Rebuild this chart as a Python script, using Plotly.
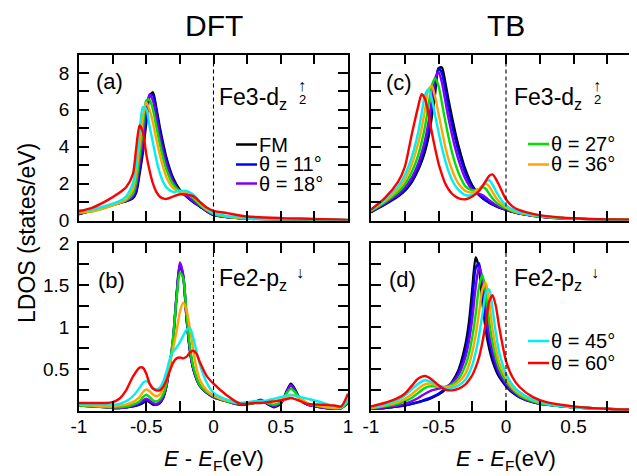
import plotly.graph_objects as go

W, H = 637, 476

# ---------------- data ----------------
series_names = ["FM", "θ = 11°", "θ = 18°", "θ = 27°", "θ = 36°", "θ = 45°", "θ = 60°"]
series_colors = ["#000000", "#0000ff", "#8000f0", "#00e000", "#ffa500", "#00f0f0", "#ff0000"]

x_tickvals = [-1, -0.75, -0.5, -0.25, 0, 0.25, 0.5, 0.75, 1]
x_ticktext = ["-1", " ", "-0.5", " ", "0", " ", "0.5", " ", "1"]
y_top_tickvals = [0, 1, 2, 3, 4, 5, 6, 7, 8, 9]
y_top_ticktext = ["0", " ", "2", " ", "4", " ", "6", " ", "8", " "]
y_bot_tickvals = [0.25, 0.5, 0.75, 1, 1.25, 1.5, 1.75, 2]
y_bot_ticktext = [" ", "0.5", " ", "1", " ", "1.5", " ", "2"]

# (a) DFT Fe3-dz2 up
E_a = [-1.0, -0.9, -0.8, -0.7, -0.65, -0.6, -0.575, -0.55, -0.525, -0.5, -0.475, -0.45, -0.425, -0.4,
       -0.375, -0.35, -0.3, -0.25, -0.2, -0.15, -0.1, -0.05, 0.0, 0.1, 0.25, 0.5, 0.75, 1.0]
fm_a = [0.35, 0.55, 0.75, 0.95, 1.05, 1.2, 1.5, 2.5, 3.7, 5.3, 6.75, 6.95, 6.1, 5.1, 4.2, 3.4, 2.3, 1.65, 1.3, 1.0, 0.75, 0.5, 0.3, 0.18, 0.1, 0.06, 0.04, 0.02]
t11_a = [0.35, 0.55, 0.75, 0.95, 1.05, 1.25, 1.6, 2.7, 3.95, 5.55, 6.8, 6.8, 5.9, 4.9, 4.0, 3.25, 2.2, 1.6, 1.3, 1.0, 0.75, 0.5, 0.3, 0.18, 0.1, 0.06, 0.04, 0.02]
t18_a = [0.38, 0.55, 0.75, 0.95, 1.07, 1.3, 1.8, 3.0, 4.4, 6.0, 6.85, 6.5, 5.6, 4.6, 3.75, 3.05, 2.1, 1.6, 1.35, 1.05, 0.78, 0.52, 0.32, 0.18, 0.1, 0.06, 0.04, 0.02]
t27_a = [0.4, 0.5, 0.7, 0.95, 1.1, 1.45, 2.1, 3.5, 5.0, 6.5, 6.55, 6.0, 5.1, 4.2, 3.4, 2.75, 1.95, 1.6, 1.5, 1.2, 0.85, 0.55, 0.35, 0.2, 0.1, 0.06, 0.04, 0.02]
t36_a = [0.45, 0.5, 0.7, 0.95, 1.15, 1.7, 2.6, 4.1, 5.6, 6.4, 6.0, 5.3, 4.4, 3.6, 2.9, 2.35, 1.75, 1.55, 1.55, 1.3, 0.9, 0.6, 0.38, 0.22, 0.12, 0.07, 0.05, 0.02]
t45_a = [0.55, 0.6, 0.8, 1.05, 1.3, 2.0, 3.1, 4.8, 6.15, 6.05, 5.1, 4.2, 3.3, 2.6, 2.1, 1.8, 1.55, 1.6, 1.6, 1.4, 1.0, 0.65, 0.4, 0.25, 0.13, 0.08, 0.05, 0.03]
t60_a = [0.5, 0.7, 1.05, 1.5, 1.8, 2.5, 3.9, 5.15, 4.8, 3.6, 2.7, 2.0, 1.55, 1.3, 1.2, 1.17, 1.3, 1.42, 1.4, 1.32, 1.0, 0.7, 0.52, 0.4, 0.22, 0.13, 0.09, 0.03]

# (b) DFT Fe2-pz down
E_b = [-1.0, -0.9, -0.8, -0.75, -0.7, -0.65, -0.6, -0.55, -0.525, -0.5, -0.475, -0.45, -0.425, -0.4, -0.375,
       -0.35, -0.325, -0.3, -0.275, -0.25, -0.225, -0.2, -0.175, -0.15, -0.125, -0.1, -0.05, 0.0, 0.1, 0.2,
       0.3, 0.35, 0.4, 0.45, 0.5, 0.55, 0.575, 0.6, 0.65, 0.7, 0.8, 0.9, 0.95, 1.0]
fm_b = [0.07, 0.06, 0.05, 0.04, 0.04, 0.05, 0.06, 0.08, 0.1, 0.13, 0.11, 0.08, 0.08, 0.1, 0.16, 0.3, 0.55, 0.85, 1.35, 1.74, 1.6, 1.1, 0.72, 0.5, 0.38, 0.3, 0.22, 0.17, 0.12, 0.08, 0.1, 0.13, 0.09, 0.05, 0.09, 0.26, 0.33, 0.28, 0.13, 0.08, 0.05, 0.03, 0.04, 0.1]
t11_b = [0.07, 0.06, 0.05, 0.04, 0.04, 0.05, 0.06, 0.09, 0.11, 0.14, 0.12, 0.09, 0.08, 0.1, 0.16, 0.3, 0.55, 0.86, 1.36, 1.75, 1.6, 1.1, 0.72, 0.5, 0.38, 0.3, 0.22, 0.17, 0.12, 0.08, 0.11, 0.13, 0.09, 0.06, 0.1, 0.26, 0.32, 0.27, 0.13, 0.08, 0.05, 0.03, 0.04, 0.1]
t18_b = [0.07, 0.06, 0.05, 0.04, 0.04, 0.05, 0.07, 0.1, 0.13, 0.15, 0.13, 0.1, 0.09, 0.11, 0.17, 0.31, 0.56, 0.88, 1.38, 1.77, 1.62, 1.12, 0.73, 0.51, 0.38, 0.3, 0.22, 0.17, 0.12, 0.08, 0.11, 0.14, 0.1, 0.06, 0.1, 0.25, 0.31, 0.26, 0.13, 0.08, 0.05, 0.03, 0.04, 0.1]
t27_b = [0.07, 0.06, 0.05, 0.05, 0.05, 0.06, 0.08, 0.12, 0.17, 0.2, 0.17, 0.13, 0.12, 0.14, 0.2, 0.33, 0.57, 0.88, 1.33, 1.65, 1.58, 1.15, 0.76, 0.53, 0.4, 0.31, 0.23, 0.18, 0.12, 0.09, 0.1, 0.12, 0.1, 0.08, 0.11, 0.23, 0.27, 0.24, 0.14, 0.09, 0.06, 0.04, 0.04, 0.12]
t36_b = [0.08, 0.07, 0.06, 0.06, 0.07, 0.08, 0.11, 0.17, 0.23, 0.26, 0.24, 0.2, 0.18, 0.2, 0.27, 0.38, 0.55, 0.75, 0.95, 1.18, 1.29, 1.2, 0.98, 0.72, 0.5, 0.37, 0.25, 0.19, 0.13, 0.1, 0.11, 0.12, 0.12, 0.12, 0.14, 0.18, 0.2, 0.19, 0.15, 0.1, 0.06, 0.04, 0.05, 0.13]
t45_b = [0.09, 0.08, 0.08, 0.08, 0.09, 0.12, 0.18, 0.28, 0.34, 0.36, 0.33, 0.28, 0.26, 0.28, 0.35, 0.47, 0.62, 0.71, 0.76, 0.82, 0.9, 0.97, 0.99, 0.87, 0.7, 0.55, 0.34, 0.22, 0.14, 0.1, 0.12, 0.12, 0.13, 0.15, 0.17, 0.19, 0.19, 0.19, 0.17, 0.15, 0.11, 0.06, 0.05, 0.15]
t60_b = [0.1, 0.1, 0.1, 0.11, 0.15, 0.25, 0.41, 0.52, 0.52, 0.45, 0.33, 0.27, 0.25, 0.25, 0.29, 0.37, 0.48, 0.58, 0.63, 0.64, 0.63, 0.65, 0.7, 0.72, 0.68, 0.58, 0.42, 0.33, 0.19, 0.09, 0.1, 0.1, 0.11, 0.12, 0.13, 0.15, 0.16, 0.15, 0.12, 0.09, 0.08, 0.07, 0.06, 0.21]

# (c) TB Fe3-dz2 up
E_c = [-1.0, -0.9, -0.8, -0.75, -0.7, -0.65, -0.625, -0.6, -0.575, -0.55, -0.525, -0.5, -0.475, -0.45, -0.425,
       -0.4, -0.375, -0.35, -0.3, -0.25, -0.2, -0.175, -0.15, -0.125, -0.1, -0.075, -0.05, 0.0, 0.05, 0.1,
       0.2, 0.3, 0.5, 0.75, 1.0]
fm_c = [0.45, 0.85, 1.3, 1.6, 2.05, 2.75, 3.2, 3.75, 4.5, 5.6, 6.9, 8.25, 8.3, 7.5, 6.5, 5.6, 4.75, 4.0, 2.75, 1.9, 1.4, 1.22, 1.08, 0.97, 0.87, 0.78, 0.7, 0.58, 0.47, 0.38, 0.26, 0.18, 0.1, 0.05, 0.03]
t11_c = [0.47, 0.88, 1.35, 1.67, 2.15, 2.9, 3.4, 4.0, 4.85, 6.0, 7.3, 8.25, 8.0, 7.1, 6.1, 5.2, 4.4, 3.7, 2.55, 1.8, 1.38, 1.25, 1.1, 0.98, 0.88, 0.79, 0.71, 0.58, 0.47, 0.38, 0.26, 0.18, 0.1, 0.05, 0.03]
t18_c = [0.5, 0.92, 1.42, 1.78, 2.3, 3.1, 3.65, 4.35, 5.3, 6.5, 7.7, 8.05, 7.5, 6.5, 5.5, 4.65, 3.9, 3.25, 2.25, 1.68, 1.45, 1.38, 1.25, 1.1, 0.96, 0.84, 0.74, 0.6, 0.48, 0.39, 0.26, 0.18, 0.1, 0.05, 0.03]
t27_c = [0.52, 0.98, 1.55, 1.95, 2.6, 3.55, 4.25, 5.1, 6.2, 7.3, 7.7, 7.3, 6.4, 5.4, 4.5, 3.7, 3.05, 2.55, 1.85, 1.65, 1.7, 1.8, 1.72, 1.45, 1.2, 1.0, 0.86, 0.65, 0.5, 0.4, 0.27, 0.19, 0.1, 0.05, 0.03]
t36_c = [0.55, 1.05, 1.7, 2.2, 3.0, 4.2, 5.0, 6.0, 7.1, 7.3, 6.7, 5.8, 4.9, 4.0, 3.3, 2.75, 2.3, 1.98, 1.6, 1.52, 1.72, 1.9, 2.0, 1.85, 1.55, 1.25, 1.02, 0.72, 0.54, 0.42, 0.28, 0.2, 0.1, 0.05, 0.03]
t45_c = [0.57, 1.12, 1.85, 2.45, 3.4, 4.8, 5.8, 6.8, 7.1, 6.6, 5.7, 4.8, 3.95, 3.25, 2.65, 2.2, 1.88, 1.65, 1.38, 1.38, 1.6, 1.85, 2.1, 2.18, 1.95, 1.6, 1.28, 0.82, 0.6, 0.46, 0.3, 0.21, 0.11, 0.05, 0.03]
t60_c = [0.6, 1.2, 2.1, 2.9, 4.6, 6.2, 6.85, 6.6, 5.8, 4.8, 3.9, 3.1, 2.5, 2.0, 1.68, 1.45, 1.3, 1.2, 1.15, 1.3, 1.6, 1.85, 2.15, 2.42, 2.5, 2.25, 1.9, 1.15, 0.75, 0.56, 0.36, 0.24, 0.12, 0.06, 0.03]

# (d) TB Fe2-pz down
E_d = [-1.0, -0.9, -0.8, -0.75, -0.7, -0.65, -0.6, -0.55, -0.5, -0.45, -0.4, -0.35, -0.3, -0.275, -0.25,
       -0.225, -0.2, -0.175, -0.15, -0.125, -0.1, -0.075, -0.05, 0.0, 0.05, 0.1, 0.2, 0.3, 0.5, 0.75, 1.0]
fm_d = [0.03, 0.04, 0.06, 0.07, 0.09, 0.11, 0.13, 0.16, 0.2, 0.26, 0.35, 0.5, 0.8, 1.05, 1.45, 1.83, 1.7, 1.3, 0.97, 0.75, 0.6, 0.49, 0.41, 0.3, 0.22, 0.17, 0.11, 0.08, 0.05, 0.03, 0.02]
t11_d = [0.03, 0.04, 0.06, 0.07, 0.09, 0.11, 0.14, 0.17, 0.21, 0.27, 0.34, 0.47, 0.73, 0.95, 1.3, 1.7, 1.76, 1.45, 1.08, 0.82, 0.65, 0.52, 0.43, 0.31, 0.23, 0.17, 0.11, 0.08, 0.05, 0.03, 0.02]
t18_d = [0.03, 0.05, 0.07, 0.09, 0.12, 0.16, 0.21, 0.25, 0.27, 0.29, 0.34, 0.44, 0.65, 0.83, 1.1, 1.47, 1.72, 1.58, 1.22, 0.92, 0.72, 0.57, 0.46, 0.33, 0.24, 0.18, 0.11, 0.08, 0.05, 0.03, 0.02]
t27_d = [0.04, 0.06, 0.09, 0.12, 0.16, 0.22, 0.28, 0.3, 0.29, 0.29, 0.32, 0.39, 0.55, 0.68, 0.88, 1.15, 1.48, 1.62, 1.42, 1.08, 0.82, 0.64, 0.51, 0.36, 0.26, 0.19, 0.12, 0.08, 0.05, 0.03, 0.02]
t36_d = [0.04, 0.07, 0.11, 0.15, 0.2, 0.27, 0.32, 0.33, 0.3, 0.29, 0.3, 0.35, 0.45, 0.55, 0.7, 0.9, 1.17, 1.45, 1.53, 1.3, 0.98, 0.75, 0.58, 0.4, 0.28, 0.21, 0.13, 0.09, 0.05, 0.03, 0.02]
t45_d = [0.05, 0.08, 0.14, 0.19, 0.26, 0.33, 0.37, 0.35, 0.31, 0.28, 0.28, 0.31, 0.38, 0.45, 0.55, 0.7, 0.9, 1.15, 1.4, 1.45, 1.22, 0.93, 0.7, 0.45, 0.31, 0.23, 0.14, 0.09, 0.05, 0.03, 0.02]
t60_d = [0.06, 0.1, 0.16, 0.21, 0.3, 0.39, 0.42, 0.38, 0.31, 0.26, 0.25, 0.27, 0.32, 0.37, 0.43, 0.52, 0.64, 0.82, 1.05, 1.3, 1.38, 1.25, 1.0, 0.6, 0.4, 0.29, 0.17, 0.11, 0.06, 0.03, 0.02]

panels = [
    ("x", "y", E_a, [fm_a, t11_a, t18_a, t27_a, t36_a, t45_a, t60_a]),
    ("x2", "y2", E_c, [fm_c, t11_c, t18_c, t27_c, t36_c, t45_c, t60_c]),
    ("x3", "y3", E_b, [fm_b, t11_b, t18_b, t27_b, t36_b, t45_b, t60_b]),
    ("x4", "y4", E_d, [fm_d, t11_d, t18_d, t27_d, t36_d, t45_d, t60_d]),
]

# ---------------- layout helpers (pixel -> paper) ----------------
def PX(x):
    return x / W

def PY(y):
    return 1 - y / H

FONT = "Liberation Sans, Arial, Helvetica, sans-serif"
TICKFONT = dict(family=FONT, size=19, color="black")

fig = go.Figure()
for xa, ya, E, ys in panels:
    for name, color, vals in zip(series_names, series_colors, ys):
        fig.add_trace(go.Scatter(x=E, y=vals, xaxis=xa, yaxis=ya, mode="lines", name=name,
                                 line=dict(color=color, width=2.4, shape="spline", smoothing=0.7),
                                 showlegend=False, hoverinfo="skip"))

common = dict(ticks="inside", ticklen=10, tickwidth=2, tickcolor="black",
              showline=True, linecolor="black", linewidth=1.6, mirror="allticks",
              showgrid=False, zeroline=False, automargin=False,
              ticklabeloverflow="allow", tickfont=TICKFONT, tickmode="array")

def xax(domain, labels, anchor):
    return dict(domain=domain, range=[-1, 1], tickvals=x_tickvals, ticktext=x_ticktext,
                showticklabels=labels, ticklabelstandoff=-3, anchor=anchor, **common)

def yax(domain, rng, tv, tt, labels, anchor):
    return dict(domain=domain, range=rng, tickvals=tv, ticktext=tt,
                showticklabels=labels, ticklabelstandoff=4, anchor=anchor, **common)

xl = [PX(71), PX(340)]
xr = [PX(363), PX(633)]
yt = [PY(212.5), PY(46.5)]
yb = [PY(403), PY(235)]

fig.update_layout(
    width=W, height=H, margin=dict(l=0, r=0, t=0, b=0),
    paper_bgcolor="white", plot_bgcolor="white", showlegend=False,
    font=dict(family=FONT, color="black"),
    xaxis=xax(xl, False, "y"), yaxis=yax(yt, [0, 9], y_top_tickvals, y_top_ticktext, True, "x"),
    xaxis2=xax(xr, False, "y2"), yaxis2=yax(yt, [0, 9], y_top_tickvals, y_top_ticktext, False, "x2"),
    xaxis3=xax(xl, True, "y3"), yaxis3=yax(yb, [0.005, 2], y_bot_tickvals, y_bot_ticktext, True, "x3"),
    xaxis4=xax(xr, True, "y4"), yaxis4=yax(yb, [0.005, 2], y_bot_tickvals, y_bot_ticktext, False, "x4"),
)

# dashed Fermi level lines
for xa, ya, _, _ in panels:
    fig.add_shape(type="line", xref=xa, yref=ya + " domain", x0=0, x1=0, y0=0, y1=1,
                  line=dict(color="black", width=1.1, dash="4px,3px"), layer="above")

ann = []
def txt(x, y, s, size, xanchor="center", yanchor="middle", angle=0):
    ann.append(dict(x=PX(x), y=PY(y), xref="paper", yref="paper", text=s, showarrow=False,
                    xanchor=xanchor, yanchor=yanchor, textangle=angle, borderpad=0, borderwidth=0,
                    font=dict(family=FONT, size=size, color="black")))

txt(206, 18, "DFT", 30)
txt(498, 18, "TB", 30)
txt(19, 225, "LDOS (states/eV)", 23, angle=-90)
txt(206, 452, "<i>E</i> - <i>E</i><sub>F</sub>(eV)", 22)
txt(498, 452, "<i>E</i> - <i>E</i><sub>F</sub>(eV)", 22)

# panel letters
txt(101, 73, "(a)", 22)
txt(103, 272, "(b)", 22)
txt(391, 74, "(c)", 22)
txt(394, 271, "(d)", 22)

# orbital labels
for x0 in (211, 506):
    txt(x0, 90, "Fe3-d<sub>z</sub>", 23, xanchor="left")
    txt(x0 + 80, 92, "2", 13, xanchor="left")
    txt(x0 + 79, 78, "↑", 16, xanchor="left")
for x0 in (211, 506):
    txt(x0, 271, "Fe2-p<sub>z</sub>", 23, xanchor="left")
    txt(x0 + 77, 264, "↓", 16, xanchor="left")

# legend samples
legend_pos = [(228, 136.5, 0), (228, 156.5, 1), (228, 175.5, 2),
              (520, 136, 3), (520, 156.5, 4),
              (520, 333, 5), (520, 355, 6)]
for lx, ly, i in legend_pos:
    fig.add_shape(type="line", xref="paper", yref="paper", x0=PX(lx), x1=PX(lx + 21), y0=PY(ly), y1=PY(ly),
                  line=dict(color=series_colors[i], width=2.5))
    txt(lx + 23, ly, series_names[i], 20, xanchor="left")

fig.update_layout(annotations=ann)
fig.write_html("out.html")
